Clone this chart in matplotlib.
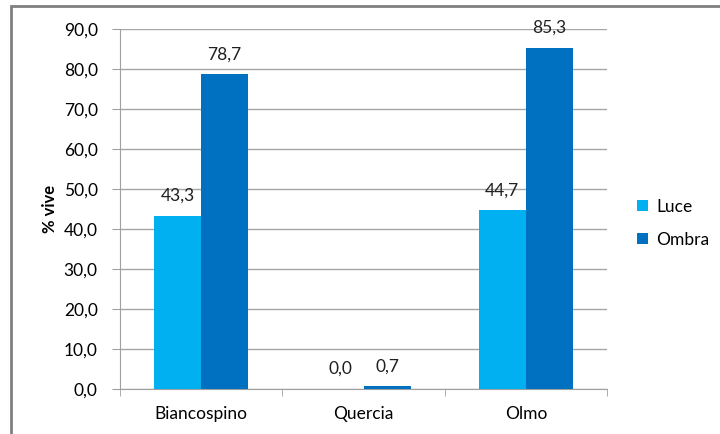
import matplotlib.pyplot as plt
import numpy as np
from matplotlib.patches import Rectangle
plt.rcParams['font.family'] = ['Lato', 'DejaVu Sans']

categories = ['Biancospino', 'Quercia', 'Olmo']
luce = [43.3, 0.0, 44.7]
ombra = [78.7, 0.7, 85.3]
series_names = ['Luce', 'Ombra']
colors = ['#00B0F0', '#0070C0']

fig = plt.figure(figsize=(7.2, 4.34), dpi=100)
ax = fig.add_axes([120/720, 1 - 389/434, 487/720, 360/434])

x = np.arange(len(categories))
w = 0.29
bars1 = ax.bar(x - w/2, luce, w, color=colors[0], label=series_names[0], zorder=3)
bars2 = ax.bar(x + w/2, ombra, w, color=colors[1], label=series_names[1], zorder=3)

for bars in (bars1, bars2):
    for b in bars:
        h = b.get_height()
        ax.text(b.get_x() + b.get_width()/2, h + 3.0, f'{h:.1f}'.replace('.', ','),
                ha='center', va='bottom', fontsize=12.5, color='#202020')

ax.set_xlim(-0.5, 2.5)
ax.set_ylim(0, 90)
yt = np.arange(0, 91, 10)
ax.set_yticks(yt)
ax.set_yticklabels([f'{v:.1f}'.replace('.', ',') for v in yt], fontsize=12.5)
ax.set_xticks(x)
ax.set_xticklabels(categories, fontsize=12.5)
ax.set_xticks([-0.5, 0.5, 1.5, 2.5], minor=True)
ax.tick_params(axis='x', which='major', length=0, pad=12)
ax.tick_params(axis='x', which='minor', length=5, color='#A0A0A0', direction='out')
ax.tick_params(axis='y', length=6, color='#A0A0A0', pad=10)
ax.grid(True, axis='y', color='#A6A6A6', linewidth=1, zorder=0)

for s in ['top', 'right']:
    ax.spines[s].set_visible(False)
ax.spines['left'].set_color('#A0A0A0')
ax.spines['bottom'].set_color('#A0A0A0')

ax.set_ylabel('% vive', fontsize=12, fontweight='bold', labelpad=4)

ax.legend(loc='center left', bbox_to_anchor=(1.03, 0.46), frameon=False,
          fontsize=12.5, handlelength=0.6, handleheight=0.6, labelspacing=1.0,
          handletextpad=0.5)

fig.patches.append(Rectangle((11/720, -0.1), 1.2, 1 - 6/434 + 0.1, transform=fig.transFigure,
                             fill=False, edgecolor='#808080', linewidth=2))

fig.savefig('out.png', dpi=100)
